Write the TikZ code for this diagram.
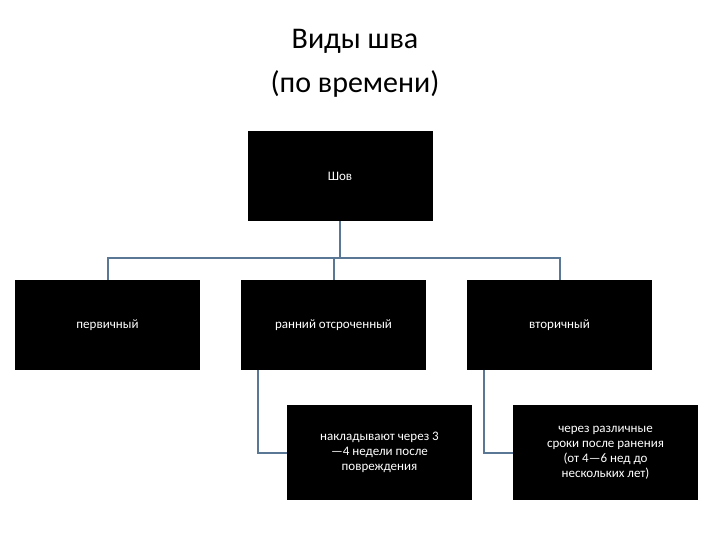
\documentclass[tikz,border=0pt]{standalone}
\usepackage{fontspec}
\setmainfont{Carlito}
\definecolor{conn}{HTML}{5A7896}
\begin{document}
\begin{tikzpicture}[x=1pt,y=-1pt,
  bx/.style={fill=black,text=white,minimum width=185pt,minimum height=90pt,inner sep=1pt,align=center,font=\fontsize{13}{15}\selectfont},
  cn/.style={draw=conn,line width=2pt}]
\useasboundingbox (0,0) rectangle (720,540);
\node[align=center,font=\fontsize{30}{44}\selectfont] (title) at (355,63) {Виды шва\\(по времени)};
\node[bx] (sh) at (340,176) {Шов};
\node[bx] (p) at (107.5,325) {первичный};
\node[bx] (r) at (333.5,325) {ранний отсроченный};
\node[bx] (v) at (559.5,325) {вторичный};
\node[bx,minimum height=95pt] (r2) at (379.5,452.5) {накладывают через 3\\—4 недели после\\повреждения};
\node[bx,minimum height=95pt] (v2) at (605.5,452.5) {через различные\\сроки после ранения\\(от 4—6 нед до\\нескольких лет)};
\coordinate (j) at (340,258);
\draw[cn] (sh.south) -- (j);
\draw[cn] (p.north) -- (107.5,258) -- (559.5,258) -- (v.north);
\draw[cn] (r.north) -- (333.5,258);
\draw[cn] (258,370) |- (r2.west);
\draw[cn] (484,370) |- (v2.west);
\end{tikzpicture}
\end{document}
